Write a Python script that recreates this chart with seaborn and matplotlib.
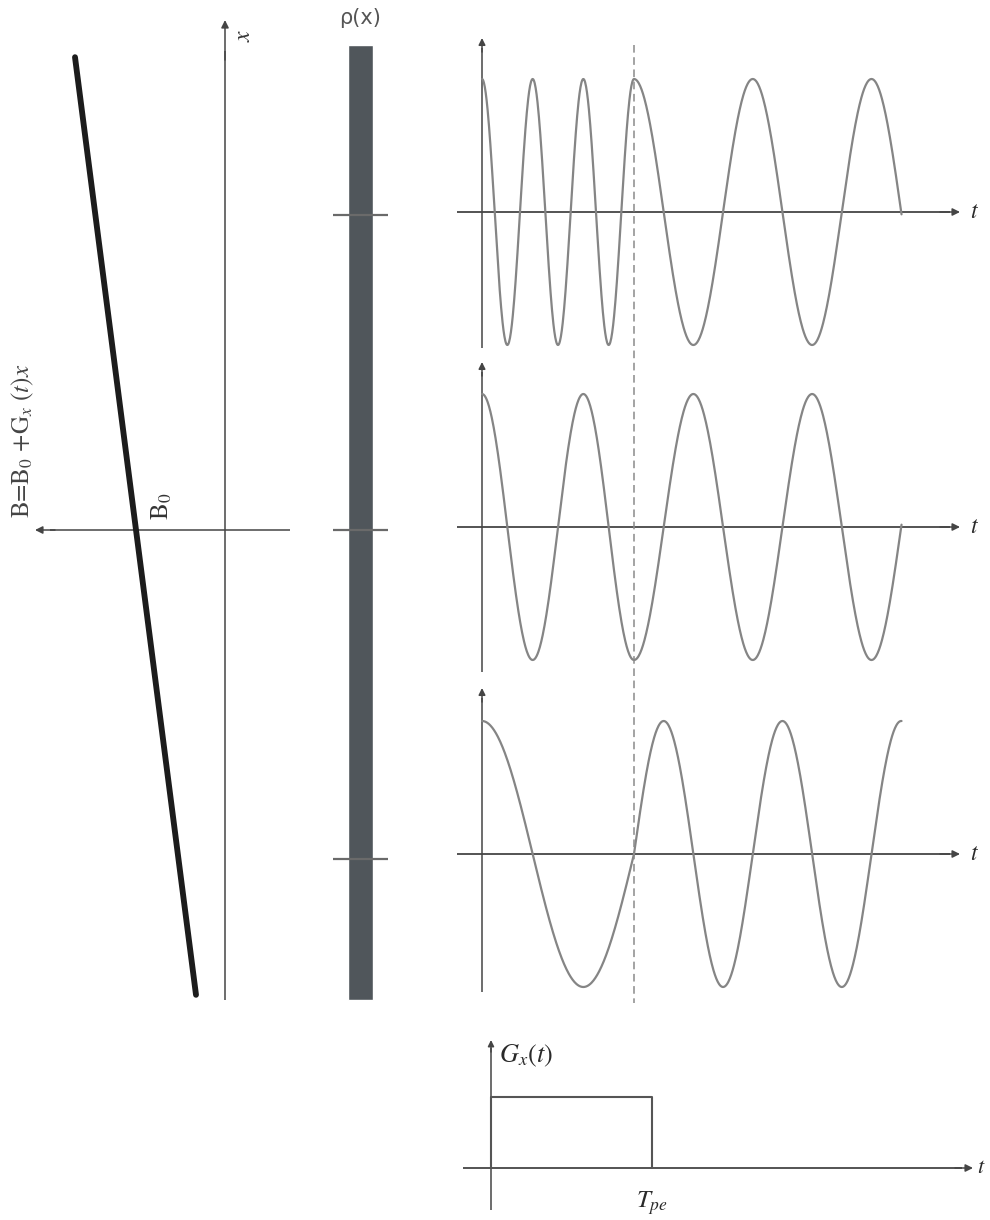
import numpy as np
import matplotlib
matplotlib.use("Agg")
import matplotlib.pyplot as plt
import seaborn as sns

# ---------------- data ----------------
# magnetic field line B = B0 + Gx(t) x  (end points)
field_x = [-0.989, 1.006]
field_B = [0.29, 1.50]
# extent of the object rho(x)
rho_bottom = -1.0
rho_top = 1.032
# the three sampled positions (ticks on rho(x))
sample_x = [0.67, 0.0, -0.70]
# number of cycles completed during the gradient pulse, per position
cycles_during = [3.0, 1.5, 0.75]
# frequency after the gradient is switched off (cycles per T_pe)
freq_after = 1.28
T_pe = 1.0
t_end = 2.76
# gradient waveform
G_t = [0.0, 0.0, T_pe, T_pe]
G_v = [0.0, 1.0, 1.0, 0.0]

# ---------------- styling ----------------
sns.set_theme(style="white")
plt.rcParams["font.family"] = ["STIXGeneral", "DejaVu Sans"]
plt.rcParams["mathtext.fontset"] = "stix"

W, H = 990, 1220
fig = plt.figure(figsize=(W / 100, H / 100), dpi=100)


def rect(x0, y0, x1, y1):
    return [x0 / W, 1 - y1 / H, (x1 - x0) / W, (y1 - y0) / H]


AX_COL = "#454545"
WAVE_COL = "#858585"
TXT_COL = "#2a2a2a"


def arrow(ax, start, end, col=AX_COL, lw=1.1, ms=11):
    ax.annotate("", xy=end, xytext=start,
                arrowprops=dict(arrowstyle="-|>", color=col, lw=lw,
                                mutation_scale=ms, shrinkA=0, shrinkB=0))


def line(ax, start, end, col=AX_COL, lw=1.1):
    ax.plot([start[0], end[0]], [start[1], end[1]], color=col, lw=lw,
            solid_capstyle="butt")


# ---------------- left panel: field vs position ----------------
axL = fig.add_axes(rect(0, 0, 300, 1220))
axL.set_xlim(2.25, -0.75)
axL.set_ylim(-690 / 470, 530 / 470)
axL.axis("off")
line(axL, (0, -1.0), (0, 1.02))
arrow(axL, (0, 1.0), (0, 1.085))
line(axL, (-0.65, 0), (1.75, 0))
arrow(axL, (1.7, 0), (1.9, 0))
sns.lineplot(x=field_B, y=field_x, sort=False, estimator=None,
             color="#1c1c1c", lw=4.2, ax=axL)
axL.text(2.02, 0.19, r"B=B$_0$ +G$_x$ ($t$)$x$", rotation=90,
         ha="center", va="center", fontsize=18, color="#444")
axL.text(0.62, 0.05, r"B$_0$", rotation=90, ha="center", va="center",
         fontsize=18, color="#333")
axL.text(-0.19, 1.053, r"$x$", rotation=90, ha="center", va="center",
         fontsize=17, color="#333")

# ---------------- rho(x) bar ----------------
axR = fig.add_axes(rect(300, 0, 420, 1220))
axR.set_xlim(-2.4, 2.4)
axR.set_ylim(-690 / 470, 530 / 470)
axR.axis("off")
axR.bar([0], [rho_top - rho_bottom], bottom=rho_bottom, width=1.0,
        color="#50565b", zorder=2)
axR.hlines(sample_x, -1.1, 1.1, color="#6a6a6a", lw=1.6, zorder=3)
axR.text(0, 1.09, "ρ(x)", ha="center", va="center", fontsize=15,
         color="#555", family=["DejaVu Sans"])

# ---------------- three signal panels ----------------
centers = [212, 527, 854]
v_tops = [38, 362, 688]
v_bots = [348, 672, 992]
AMP = 133.0
PX_T = 152.0
T0 = 482
xlim_w = ((440 - T0) / PX_T, (990 - T0) / PX_T)

for i, yc in enumerate(centers):
    ax = fig.add_axes(rect(440, yc - 180, 990, yc + 180))
    ax.set_xlim(*xlim_w)
    ax.set_ylim(-180 / AMP, 180 / AMP)
    ax.axis("off")
    # axes
    line(ax, (0, (yc - v_bots[i]) / AMP), (0, (yc - v_tops[i] - 10) / AMP))
    arrow(ax, (0, (yc - v_tops[i] - 14) / AMP), (0, (yc - v_tops[i]) / AMP),
          ms=10)
    line(ax, ((457 - T0) / PX_T, 0), ((950 - T0) / PX_T, 0), lw=1.3)
    arrow(ax, ((940 - T0) / PX_T, 0), ((960 - T0) / PX_T, 0), ms=11)
    ax.text((975 - T0) / PX_T, 0, r"$t$", ha="center", va="center",
            fontsize=17, color=TXT_COL)
    # signal
    t = np.linspace(0, t_end, 900)
    c = cycles_during[i]
    phase = np.where(t <= T_pe, 2 * np.pi * c * t / T_pe,
                     2 * np.pi * c + 2 * np.pi * freq_after * (t - T_pe))
    sns.lineplot(x=t, y=np.cos(phase), color=WAVE_COL, lw=1.6,
                 estimator=None, sort=False, ax=ax)

# dashed line at T_pe across the signal panels
axD = fig.add_axes(rect(440, 0, 990, 1220))
axD.set_xlim(*xlim_w)
axD.set_ylim(1220, 0)
axD.axis("off")
axD.vlines(T_pe, 45, 1003, colors="#8a8a8a", lw=1.1,
           linestyles=(0, (5, 3)))

# ---------------- gradient waveform ----------------
PX_G = 161.0
G0 = 491
GAMP = 71.0
axG = fig.add_axes(rect(440, 1000, 990, 1220))
axG.set_xlim((440 - G0) / PX_G, (990 - G0) / PX_G)
axG.set_ylim((1168 - 1220) / GAMP, (1168 - 1000) / GAMP)
axG.axis("off")
line(axG, (0, (1168 - 1210) / GAMP), (0, (1168 - 1048) / GAMP))
arrow(axG, (0, (1168 - 1052) / GAMP), (0, (1168 - 1040) / GAMP), ms=9)
line(axG, ((463 - G0) / PX_G, 0), ((962 - G0) / PX_G, 0), lw=1.3)
arrow(axG, ((955 - G0) / PX_G, 0), ((973 - G0) / PX_G, 0), ms=11)
axG.text((977 - G0) / PX_G, 0, r"$t$", ha="left", va="center",
         fontsize=16, color=TXT_COL)
sns.lineplot(x=G_t, y=G_v, sort=False, estimator=None, color="#555",
             lw=1.5, ax=axG)
axG.text((499 - G0) / PX_G, (1168 - 1056) / GAMP, r"$G_x(t)$",
         ha="left", va="center", fontsize=19, color=TXT_COL)
axG.text(T_pe, (1168 - 1203) / GAMP, r"$T_{pe}$", ha="center",
         va="center", fontsize=18, color=TXT_COL)

fig.savefig("out.png", dpi=100)
